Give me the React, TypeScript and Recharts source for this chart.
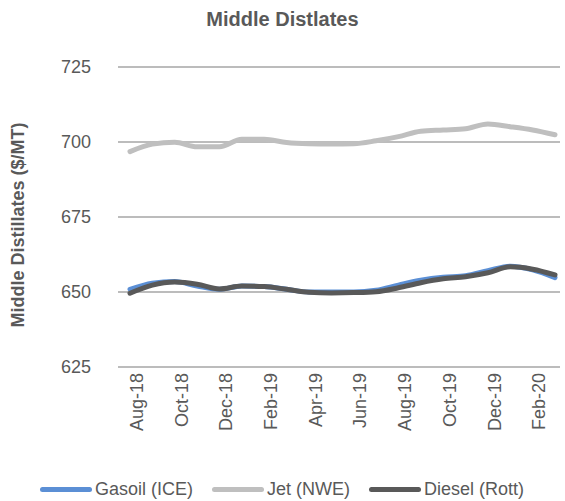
import React from 'react';
import { LineChart, Line, XAxis, YAxis, CartesianGrid, Legend } from 'recharts';

const months = [
  'Aug-18', 'Sep-18', 'Oct-18', 'Nov-18', 'Dec-18', 'Jan-19', 'Feb-19', 'Mar-19', 'Apr-19', 'May-19',
  'Jun-19', 'Jul-19', 'Aug-19', 'Sep-19', 'Oct-19', 'Nov-19', 'Dec-19', 'Jan-20', 'Feb-20', 'Mar-20'
];
const gasoil = [650.9, 652.9, 653.5, 652.0, 650.9, 652.0, 651.8, 650.9, 650.0, 650.0, 650.0, 650.6, 652.3, 653.9, 654.9, 655.4, 657.1, 658.6, 657.4, 654.8];
const jet = [696.8, 699.3, 699.9, 698.4, 698.4, 700.9, 700.9, 699.8, 699.4, 699.3, 699.4, 700.4, 701.8, 703.6, 704.0, 704.4, 706.0, 705.1, 704.0, 702.4];
const diesel = [649.6, 652.3, 653.3, 652.6, 651.0, 652.0, 651.8, 650.9, 649.9, 649.7, 649.8, 650.1, 651.4, 653.1, 654.4, 655.1, 656.4, 658.4, 657.6, 655.7];
const yTicks = [625, 650, 675, 700, 725];

const series = [
  { key: 'gasoil', name: 'Gasoil (ICE)', color: '#5b8fd5' },
  { key: 'jet', name: 'Jet (NWE)', color: '#bfbfbf' },
  { key: 'diesel', name: 'Diesel (Rott)', color: '#595959' }
];

const data = months.map((m, i) => ({ month: m, gasoil: gasoil[i], jet: jet[i], diesel: diesel[i] }));

const font = '"Liberation Sans", Arial, sans-serif';
const textColor = '#595959';

function LegendContent() {
  return (
    <div style={{ display: 'flex', paddingLeft: 40, fontFamily: font, fontSize: 18, color: textColor, height: 22, alignItems: 'center', lineHeight: '22px', whiteSpace: 'nowrap' }}>
      {series.map((s) => (
        <div key={s.key} style={{ display: 'flex', alignItems: 'center', marginRight: 19, flexShrink: 0 }}>
          <span style={{ display: 'inline-block', width: 52, height: 5, borderRadius: 3, background: s.color, marginRight: 3 }} />
          <span>{s.name}</span>
        </div>
      ))}
    </div>
  );
}

export default function App() {
  return (
    <div style={{ position: 'absolute', left: 0, top: 0, width: 565, height: 501, background: '#fff' }}>
      <div style={{ position: 'absolute', top: 8, width: 565, textAlign: 'center', whiteSpace: 'nowrap', fontFamily: font, fontWeight: 'bold', fontSize: 20, color: textColor }}>
        Middle Distlates
      </div>
      <div style={{ position: 'absolute', left: 18, top: 225, transform: 'translate(-50%, -50%) rotate(-90deg)', whiteSpace: 'nowrap', fontFamily: font, fontWeight: 'bold', fontSize: 18, color: textColor }}>
        Middle Distillates ($/MT)
      </div>
      <LineChart width={565} height={501} data={data} margin={{ top: 67, right: 5, left: 0, bottom: 1 }}>
        <CartesianGrid vertical={false} stroke="#a6a6a6" strokeWidth={1.3} />
        <XAxis
          dataKey="month"
          interval={1}
          height={111}
          angle={-90}
          textAnchor="end"
          tickLine={false}
          axisLine={false}
          tickMargin={13}
          padding={{ left: 12, right: 5 }}
          tick={{ fill: textColor, fontSize: 18, fontFamily: font, dy: -13 } as any}
        />
        <YAxis
          width={118}
          domain={[625, 725]}
          ticks={yTicks}
          tickLine={false}
          axisLine={false}
          tickMargin={21}
          tick={{ fill: textColor, fontSize: 18, fontFamily: font }}
        />
        <Legend verticalAlign="bottom" content={() => <LegendContent />} />
        {series.map((s) => (
          <Line
            key={s.key}
            type="monotone"
            dataKey={s.key}
            name={s.name}
            stroke={s.color}
            strokeWidth={5}
            dot={false}
            strokeLinecap="round"
            isAnimationActive={false}
          />
        ))}
      </LineChart>
    </div>
  );
}
